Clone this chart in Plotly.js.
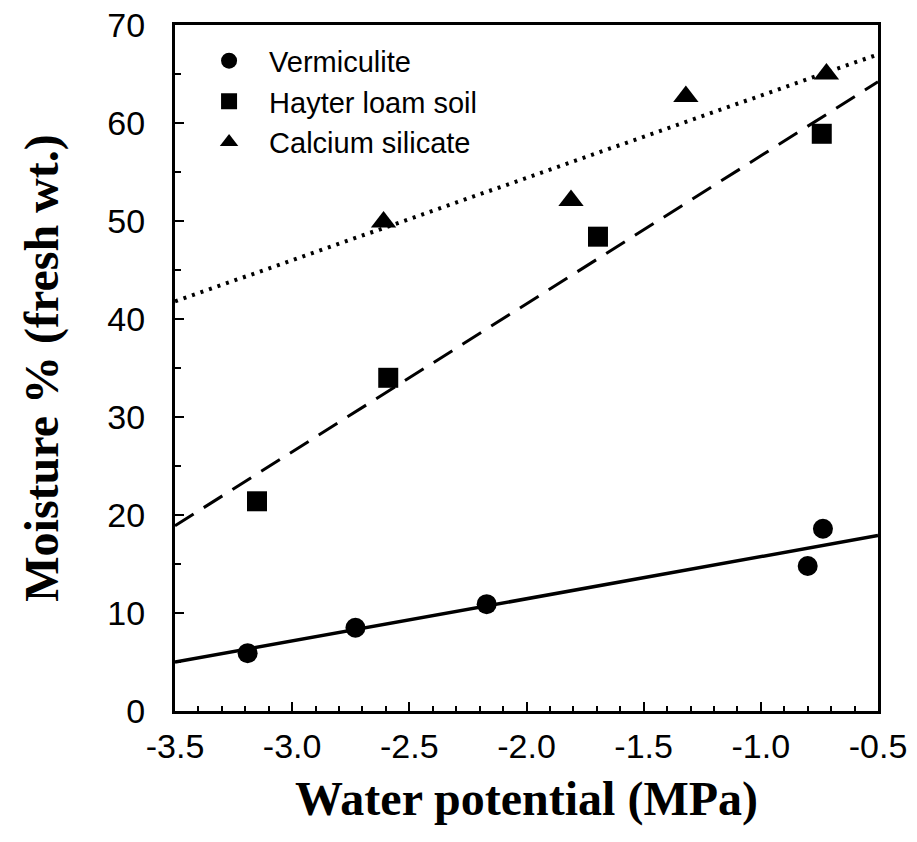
<!DOCTYPE html>
<html><head><meta charset="utf-8">
<script src="https://cdn.plot.ly/plotly-3.0.1.min.js"></script>
<style>html,body{margin:0;padding:0;background:#fff}#c{width:917px;height:842px}</style>
</head><body><div id="c"></div>
<script>
const vermX = [-3.19, -2.73, -2.17, -0.80, -0.735];
const vermY = [5.9, 8.5, 10.9, 14.8, 18.6];
const hayX = [-3.15, -2.59, -1.695, -0.74];
const hayY = [21.4, 34.0, 48.4, 58.9];
const calX = [-2.61, -1.81, -1.32, -0.72];
const calY = [49.9, 52.1, 62.7, 65.0];
const fitX = [-3.5, -0.5];
const vermFit = [5.0, 17.9];
const hayFit = [18.9, 64.2];
const calFit = [41.8, 67.0];
const xTicks = [-3.5, -3.0, -2.5, -2.0, -1.5, -1.0, -0.5];
const xTickText = ['-3.5', '-3.0', '-2.5', '-2.0', '-1.5', '-1.0', '-0.5'];
const yTicks = [0, 10, 20, 30, 40, 50, 60, 70];

const traces = [
  {x: fitX, y: vermFit, mode: 'lines', line: {color: '#000', width: 3.5}, showlegend: false, hoverinfo: 'skip'},
  {x: fitX, y: hayFit, mode: 'lines', line: {color: '#000', width: 3, dash: '22px,12px'}, showlegend: false, hoverinfo: 'skip'},
  {x: fitX, y: calFit, mode: 'lines', line: {color: '#000', width: 4, dash: '3px,6px'}, showlegend: false, hoverinfo: 'skip'},
  {x: vermX, y: vermY, mode: 'markers', name: 'Vermiculite', marker: {symbol: 'circle', size: 20, color: '#000'}},
  {x: hayX, y: hayY, mode: 'markers', name: 'Hayter loam soil', marker: {symbol: 'square', size: 20, color: '#000'}},
  {x: calX, y: calY, mode: 'markers', name: 'Calcium silicate', marker: {symbol: 'triangle-up', size: 22, color: '#000'}}
];

const axisFont = {family: 'Liberation Sans, Arial, sans-serif', size: 34, color: '#000'};
const titleFont = {family: 'Liberation Serif, Times New Roman, serif', size: 48, color: '#000', weight: 'bold'};

const layout = {
  width: 917, height: 842,
  margin: {l: 175, r: 39, t: 25, b: 131},
  paper_bgcolor: '#fff', plot_bgcolor: '#fff',
  showlegend: true,
  legend: {x: 0.02, y: 0.985, xanchor: 'left', yanchor: 'top', bgcolor: 'rgba(0,0,0,0)',
           font: {family: 'Liberation Sans, Arial, sans-serif', size: 29, color: '#000'},
           tracegroupgap: 0, itemwidth: 70},
  xaxis: {
    range: [-3.5, -0.5], tickvals: xTicks, ticktext: xTickText,
    ticks: 'inside', ticklen: 9, tickwidth: 2, tickcolor: '#000',
    minor: {dtick: 0.1, ticks: 'inside', ticklen: 5, tickwidth: 2, tickcolor: '#000', showgrid: false},
    showline: true, linewidth: 3, linecolor: '#000', mirror: true,
    showgrid: false, zeroline: false, tickfont: axisFont, ticklabelstandoff: 3,
    title: {text: 'Water potential (MPa)', font: titleFont, standoff: 18}
  },
  yaxis: {
    range: [0, 70], tickvals: yTicks,
    ticks: 'inside', ticklen: 9, tickwidth: 2, tickcolor: '#000',
    minor: {dtick: 5, ticks: 'inside', ticklen: 6, tickwidth: 2, tickcolor: '#000', showgrid: false},
    showline: true, linewidth: 3, linecolor: '#000', mirror: true,
    showgrid: false, zeroline: false, tickfont: axisFont, ticklabelstandoff: 20,
    title: {text: 'Moisture % (fresh wt.)', font: titleFont, standoff: 34}
  }
};
Plotly.newPlot('c', traces, layout, {displayModeBar: false, staticPlot: true});
</script></body></html>
